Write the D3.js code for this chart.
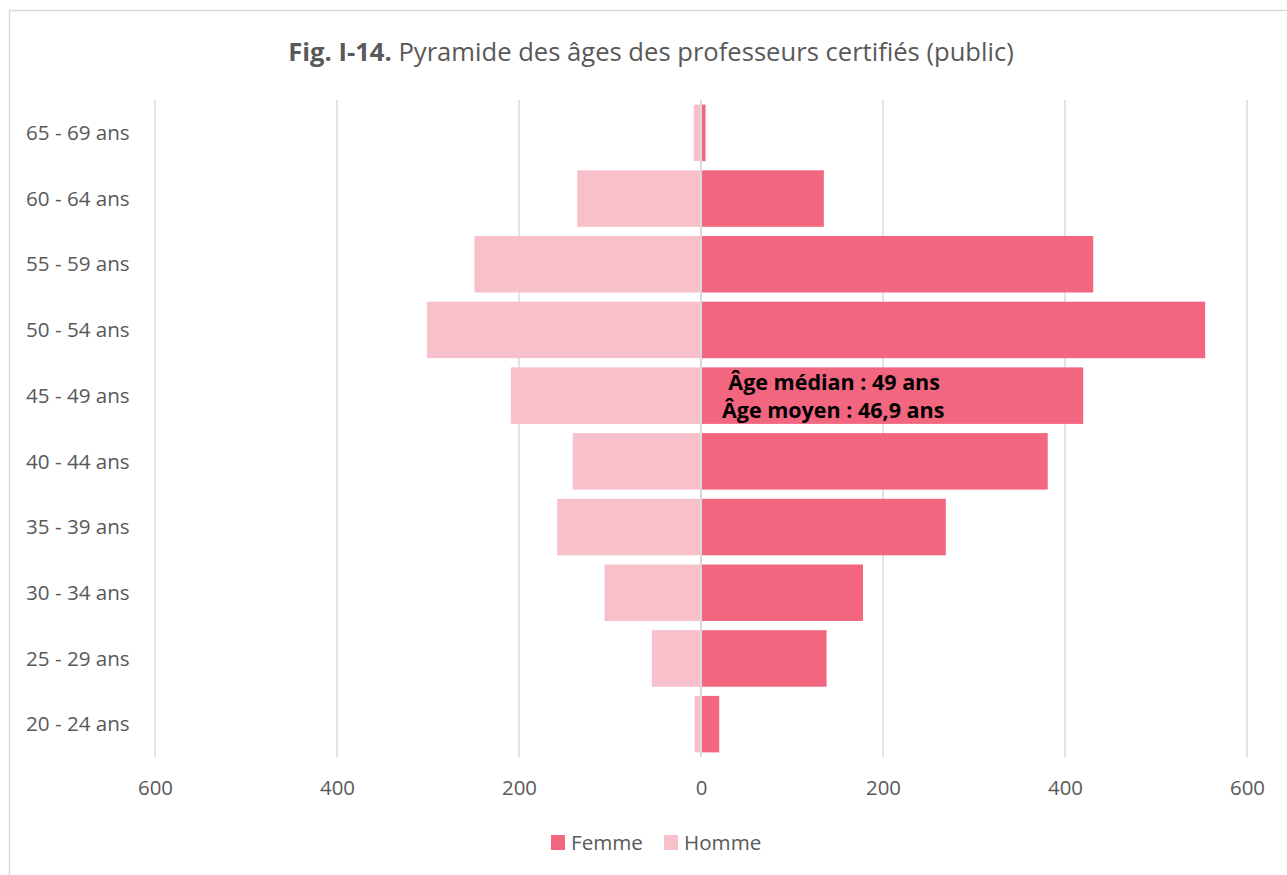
<!DOCTYPE html>
<html>
<head>
<meta charset="utf-8">
<script src="https://cdn.jsdelivr.net/npm/d3@7"></script>
<style>
  body { margin: 0; background: #fff; }
  svg { display: block; font-family: "Open Sans", sans-serif; }
</style>
</head>
<body>
<div id="chart"></div>
<script>
// age groups, bottom to top
const ageGroups = ["20 - 24 ans", "25 - 29 ans", "30 - 34 ans", "35 - 39 ans", "40 - 44 ans",
  "45 - 49 ans", "50 - 54 ans", "55 - 59 ans", "60 - 64 ans", "65 - 69 ans"];
const femme = [20, 138, 178, 269, 381, 420, 554, 431, 135, 5];
const homme = [7, 54, 106, 158, 141, 209, 301, 249, 136, 8];
const tickValues = [-600, -400, -200, 0, 200, 400, 600];
const seriesNames = ["Femme", "Homme"];
const seriesColors = ["#F26680", "#F8C0CB"];

const width = 1287, height = 875;
const textColor = "#595959";
const gridColor = "#d9d9d9";

const svg = d3.select("#chart").append("svg")
  .attr("width", width)
  .attr("height", height);

// outer frame
svg.append("rect")
  .attr("x", 9.5).attr("y", 10.5)
  .attr("width", width).attr("height", height)
  .attr("fill", "none")
  .attr("stroke", gridColor)
  .attr("stroke-width", 1.5);

// title
const title = svg.append("text")
  .attr("x", 651).attr("y", 61)
  .attr("text-anchor", "middle")
  .attr("fill", textColor)
  .style("font-size", "25.6px");
title.append("tspan").attr("font-weight", "bold").text("Fig. I-14.");
title.append("tspan").text(" Pyramide des âges des professeurs certifiés (public)");

const x = d3.scaleLinear().domain([-600, 600]).range([155, 1247]);
const y = d3.scaleBand().domain(ageGroups).range([757, 100]).paddingInner(0.14).paddingOuter(0.07);

// vertical gridlines
svg.append("g")
  .selectAll("line")
  .data(tickValues.filter(d => d !== 0))
  .join("line")
  .attr("x1", d => x(d)).attr("x2", d => x(d))
  .attr("y1", 100).attr("y2", 757)
  .attr("stroke", gridColor)
  .attr("stroke-width", 1.5);

const rows = ageGroups.map((g, i) => ({ group: g, femme: femme[i], homme: homme[i] }));

// Homme bars (left)
svg.append("g")
  .selectAll("rect")
  .data(rows)
  .join("rect")
  .attr("x", d => x(-d.homme))
  .attr("y", d => y(d.group))
  .attr("width", d => x(0) - x(-d.homme))
  .attr("height", y.bandwidth())
  .attr("fill", seriesColors[1]);

// Femme bars (right)
svg.append("g")
  .selectAll("rect")
  .data(rows)
  .join("rect")
  .attr("x", x(0))
  .attr("y", d => y(d.group))
  .attr("width", d => x(d.femme) - x(0))
  .attr("height", y.bandwidth())
  .attr("fill", seriesColors[0]);

// zero axis line
svg.append("line")
  .attr("x1", x(0)).attr("x2", x(0))
  .attr("y1", 100).attr("y2", 757)
  .attr("stroke", gridColor)
  .attr("stroke-width", 2);

// category labels
svg.append("g")
  .selectAll("text")
  .data(ageGroups)
  .join("text")
  .attr("x", 26)
  .attr("y", d => y(d) + y.bandwidth() / 2)
  .attr("dy", "0.35em")
  .attr("fill", textColor)
  .style("font-size", "20.6px")
  .text(d => d);

// bottom tick labels
const xAxis = d3.axisBottom(x)
  .tickValues(tickValues)
  .tickFormat(d => Math.abs(d))
  .tickSize(0)
  .tickPadding(0);
const axisG = svg.append("g")
  .attr("transform", "translate(0,781)")
  .call(xAxis);
axisG.select(".domain").remove();
axisG.selectAll("text")
  .attr("fill", textColor)
  .style("font-size", "20.4px")
  .style("font-family", "'Open Sans', sans-serif");

// annotation
const note = svg.append("g")
  .attr("fill", "#000")
  .style("font-size", "21.5px")
  .style("font-weight", "bold");
note.append("text").attr("x", x(30)).attr("y", 390).text("Âge médian : 49 ans");
note.append("text").attr("x", x(23)).attr("y", 418).text("Âge moyen : 46,9 ans");

// legend
const legendX = [551, 664];
const legend = svg.append("g")
  .selectAll("g")
  .data(seriesNames)
  .join("g")
  .attr("transform", (d, i) => `translate(${legendX[i]},835)`);
legend.append("rect")
  .attr("width", 14).attr("height", 15)
  .attr("fill", (d, i) => seriesColors[i]);
legend.append("text")
  .attr("x", 20).attr("y", 7.5)
  .attr("dy", "0.35em")
  .attr("fill", textColor)
  .style("font-size", "20.6px")
  .text(d => d);
</script>
</body>
</html>
